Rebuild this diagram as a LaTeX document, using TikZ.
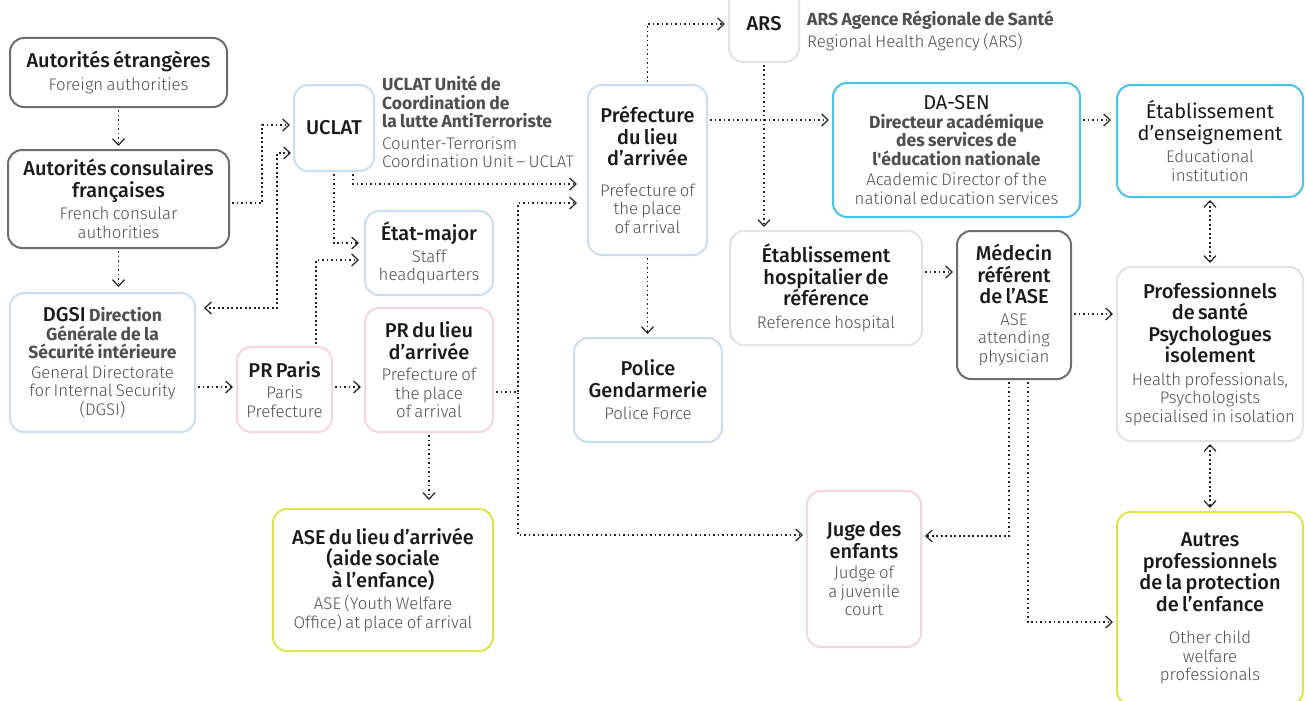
\documentclass[tikz,border=0pt]{standalone}
\usepackage{fontspec}
\setmainfont{Fira Sans}[Ligatures=TeXOff]
\newfontfamily\titlef{Fira Sans Medium}
\newfontfamily\lightf{Fira Sans Light}
\usetikzlibrary{arrows.meta,calc}
\definecolor{titlec}{HTML}{1A1A1A}
\definecolor{subc}{HTML}{505050}
\definecolor{boldg}{HTML}{4F4F4F}
\definecolor{linec}{HTML}{222222}
\definecolor{cdark}{HTML}{6E6E6E}
\definecolor{cblue}{HTML}{C7DFF5}
\definecolor{cpink}{HTML}{F8D3E3}
\definecolor{ccyan}{HTML}{48C3EE}
\definecolor{clight}{HTML}{E3E3E3}
\definecolor{cyel}{HTML}{E2E24C}
\newcommand\ttl[1]{{\titlef\fontsize{20}{21.5}\selectfont\color{titlec}#1\par}}
\newcommand\sbt[2][6pt]{{\vspace{#1}\lightf\fontsize{16.8}{18.5}\selectfont\color{subc}#2\par}}
\newcommand\bgr[1]{{\rmfamily\bfseries\fontsize{17.5}{18.5}\selectfont\color{boldg}#1\par}}
\tikzset{
  box/.style={draw, line width=2pt, rounded corners=14pt, inner sep=0pt, align=center, fill=white},
  tipa/.tip={Straight Barb[length=6.5pt,width=12pt,line width=1.2pt]},
  conn/.style={draw=linec, line width=1.8pt, dash pattern=on 1.8pt off 2.7pt, -tipa, shorten >=3pt, shorten <=2pt},
  conn2/.style={conn, tipa-tipa},
}
\begin{document}
\begin{tikzpicture}[x=1pt,y=-1pt]
\useasboundingbox (0,0) rectangle (1306,701);
\clip (0,0) rectangle (1306,701);
\fill[white] (0,0) rectangle (1306,701);

% nodes
\node[box, draw=cdark, minimum width=217, minimum height=69, text width=207] (etr) at (118.5,72.5)
  {\ttl{Autorités étrangères}\sbt[4pt]{Foreign authorities}};
\node[box, draw=cdark, minimum width=221, minimum height=98, text width=211] (cons) at (118.5,199)
  {\ttl{Autorités consulaires\\françaises}\sbt[4pt]{French consular\\authorities}};
\node[box, draw=cblue, minimum width=185, minimum height=139, text width=182] (dgsi) at (102.5,362.5)
  {{\titlef\fontsize{20}{21.5}\selectfont\color{titlec}DGSI {\rmfamily\bfseries\fontsize{17.5}{18.5}\selectfont\color{boldg}Direction}\par}\bgr{Générale de la\\Sécurité intérieure}\sbt[1pt]{General Directorate\\for Internal Security\\(DGSI)}};
\node[box, draw=cpink, minimum width=95, minimum height=85, text width=92] (prparis) at (284.5,389.5)
  {\ttl{PR Paris}\sbt[3pt]{Paris\\Prefecture}};
\node[box, draw=cpink, minimum width=128, minimum height=124, text width=122] (prlieu) at (429,370)
  {\ttl{PR du lieu\\d’arrivée}\sbt[3pt]{Prefecture of\\the place\\of arrival}};
\node[box, draw=cblue, minimum width=80, minimum height=86, text width=76] (uclat) at (334,128)
  {\ttl{UCLAT}};
\node[anchor=north west, inner sep=0pt, text width=215, align=left] (uclatlab) at (382,76)
  {\bgr{UCLAT Unité de\\Coordination de\\la lutte AntiTerroriste}\sbt[3pt]{Counter-Terrorism\\Coordination Unit – UCLAT}};
\node[box, draw=cblue, minimum width=128, minimum height=84, text width=122] (etat) at (429,253)
  {\ttl{État-major}\sbt[3pt]{Staff\\headquarters}};
\node[box, draw=cblue, minimum width=119, minimum height=170, text width=116] (pref) at (647.5,170)
  {\ttl{Préfecture\\du lieu\\d’arrivée}\sbt[12pt]{Prefecture of\\the place\\of arrival}};
\node[box, draw=clight, minimum width=70, minimum height=76, text width=66] (ars) at (764,24)
  {\ttl{ARS}};
\node[anchor=north west, inner sep=0pt, text width=300, align=left] (arslab) at (807,11)
  {\bgr{ARS Agence Régionale de Santé}\sbt[3pt]{Regional Health Agency (ARS)}};
\node[box, draw=ccyan, minimum width=247, minimum height=134, text width=240] (dasen) at (956.5,150)
  {{\rmfamily\fontsize{20}{20}\selectfont\color{titlec}DA-SEN\par}\bgr{Directeur académique\\des services de\\l'éducation nationale}\sbt[2pt]{Academic Director of the\\national education services}};
\node[box, draw=ccyan, minimum width=186, minimum height=112, text width=180] (etab) at (1210,141)
  {{\rmfamily\fontsize{20}{21.5}\selectfont\color{titlec}Établissement\\d’enseignement\par}\sbt[4pt]{Educational\\institution}};
\node[box, draw=clight, minimum width=192, minimum height=114, text width=186] (hosp) at (826,288)
  {\ttl{Établissement\\hospitalier de\\référence}\sbt[4pt]{Reference hospital}};
\node[box, draw=cdark, minimum width=114, minimum height=148, text width=108] (med) at (1014,305)
  {\ttl{Médecin\\référent\\de l’ASE}\sbt[3pt]{ASE\\attending\\physician}};
\node[box, draw=clight, minimum width=186, minimum height=174, text width=184] (prof) at (1210,354)
  {\ttl{Professionnels\\de santé\\Psychologues\\isolement}\sbt[4pt]{Health professionals,\\Psychologists\\specialised in isolation}};
\node[box, draw=cblue, minimum width=148, minimum height=104, text width=140] (police) at (648,390)
  {\ttl{Police\\Gendarmerie}\sbt[4pt]{Police Force}};
\node[box, draw=cyel, minimum width=220, minimum height=142, text width=216] (ase) at (383,580)
  {\ttl{ASE du lieu d’arrivée\\(aide sociale\\à l’enfance)}\sbt[4pt]{ASE (Youth Welfare\\Office) at place of arrival}};
\node[box, draw=cpink, minimum width=114, minimum height=156, text width=108] (juge) at (864,569)
  {\ttl{Juge des\\enfants}\sbt[2pt]{Judge of\\a juvenile\\court}\vspace{14pt}};
\node[box, draw=cyel, minimum width=186, minimum height=193, text width=180] (autres) at (1210,608.5)
  {\ttl{Autres\\professionnels\\de la protection\\de l’enfance}\sbt[14pt]{Other child\\welfare\\professionals}};

% connectors
\draw[conn] (etr.south) -- (cons.north);
\draw[conn] (cons.east |- 0,203) -- (262,203) |- (uclat.west |- 0,125);
\draw[conn2, shorten >=8pt] (uclat.west |- 0,153) -- (277,153) |- (dgsi.east |- 0,308);
\draw[conn, shorten >=5pt] (cons.south) -- (cons.south |- dgsi.north);
\draw[conn] (dgsi.east |- 0,387) -- (prparis.west |- 0,387);
\draw[conn] (prparis.east |- 0,387) -- (prlieu.west |- 0,387);
\draw[conn, shorten >=5pt] ([xshift=31.5pt]prparis.north) |- (etat.west |- 0,260);
\draw[conn, shorten >=5pt] (uclat.south) |- (etat.west |- 0,243);
\draw[conn, shorten >=10pt] ([xshift=19pt]uclat.south) |- (pref.west |- 0,184);
\draw[conn, shorten >=10pt] (prlieu.east |- 0,392) -- (518,392) |- (pref.west |- 0,203);
\draw[conn] (prlieu.east |- 0,392) -- (518,392) |- (juge.west |- 0,535);
\draw[conn, shorten >=8pt] (prlieu.south) -- (prlieu.south |- ase.north);
\draw[conn] (pref.north) |- (ars.west);
\draw[conn] (pref.east |- 0,120) -- (dasen.west |- 0,120);
\draw[conn, shorten >=5pt] (dasen.east |- 0,120) -- (etab.west |- 0,120);
\draw[conn] (ars.south) -- (ars.south |- hosp.north);
\draw[conn] (pref.south) -- (pref.south |- police.north);
\draw[conn] (hosp.east |- 0,272) -- (med.west |- 0,272);
\draw[conn] (med.east |- 0,314) -- (prof.west |- 0,314);
\draw[conn2] (etab.south) -- (prof.north);
\draw[conn2] (prof.south) -- (autres.north);
\draw[conn] ([xshift=-5pt]med.south) |- (juge.east |- 0,536);
\draw[conn] ([xshift=14pt]med.south) |- (autres.west |- 0,622);
\end{tikzpicture}
\end{document}
